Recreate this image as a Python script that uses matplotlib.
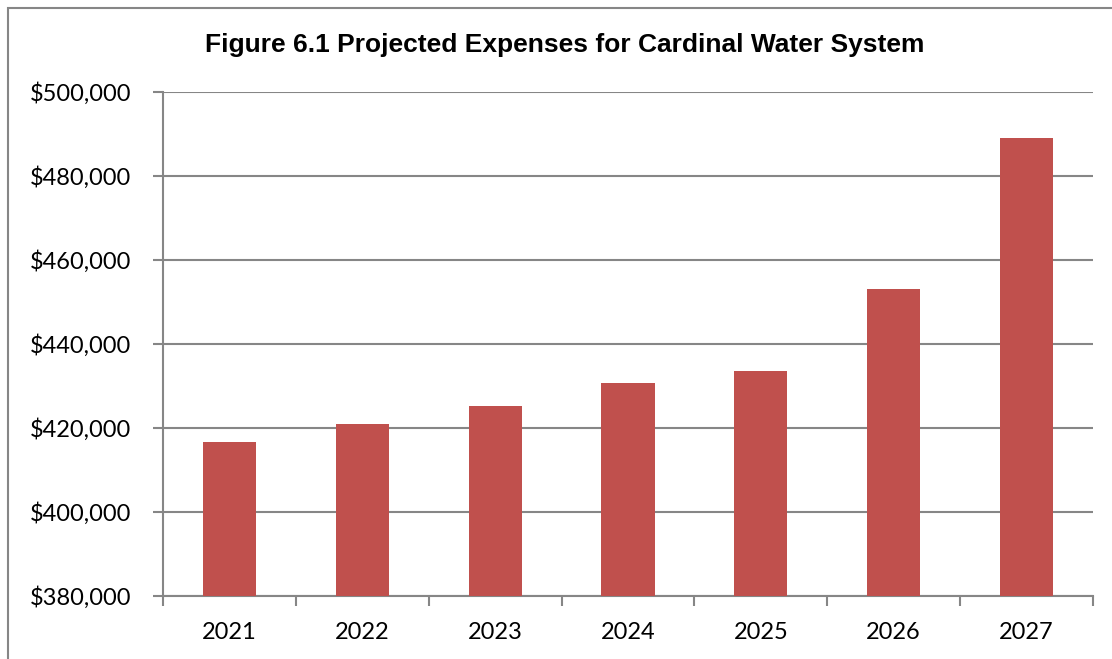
import matplotlib.pyplot as plt
import numpy as np
from matplotlib.ticker import FuncFormatter, FixedLocator
from matplotlib.patches import Rectangle

# data
years = ['2021', '2022', '2023', '2024', '2025', '2026', '2027']
expenses = [416700, 420900, 425200, 430700, 433600, 453100, 489000]

fig = plt.figure(figsize=(11.12, 6.59), dpi=100)
ax = fig.add_axes([163/1112, 1 - 596/659, (1093-163)/1112, (596-92)/659])

x = np.arange(len(years))
ax.bar(x, expenses, width=0.4, color='#C0504D', zorder=3)

ax.set_xlim(-0.5, len(years) - 0.5)
ax.set_ylim(380000, 500000)
ax.set_yticks(np.arange(380000, 500001, 20000))
ax.yaxis.set_major_formatter(FuncFormatter(lambda v, p: f'${v:,.0f}'))
ax.set_xticks(x)
ax.set_xticklabels(years)
ax.xaxis.set_minor_locator(FixedLocator(np.arange(-0.5, len(years), 1)))

ax.grid(axis='y', color='#868686', linewidth=1.5, zorder=0)
for s in ['top', 'right']:
    ax.spines[s].set_visible(False)
for s in ['left', 'bottom']:
    ax.spines[s].set_color('#868686')
    ax.spines[s].set_linewidth(1.5)

ax.tick_params(axis='y', length=7, width=1.5, color='#868686', labelsize=17, pad=16)
ax.tick_params(axis='x', which='major', length=0, labelsize=17, pad=19)
ax.tick_params(axis='x', which='minor', length=7, width=1.5, color='#868686')
for lbl in ax.get_xticklabels() + ax.get_yticklabels():
    lbl.set_family('Lato')

fig.text(565/1112, 1 - 45/659, 'Figure 6.1 Projected Expenses for Cardinal Water System',
         ha='center', va='center', fontsize=19, fontweight='bold', family='Liberation Sans')

# outer chart border
fig.patches.append(Rectangle((8/1112, -0.1), 1.2, 1 - 8/659 + 0.1, transform=fig.transFigure,
                             fill=False, edgecolor='#868686', linewidth=1.5))

fig.savefig('out.png', dpi=100)
